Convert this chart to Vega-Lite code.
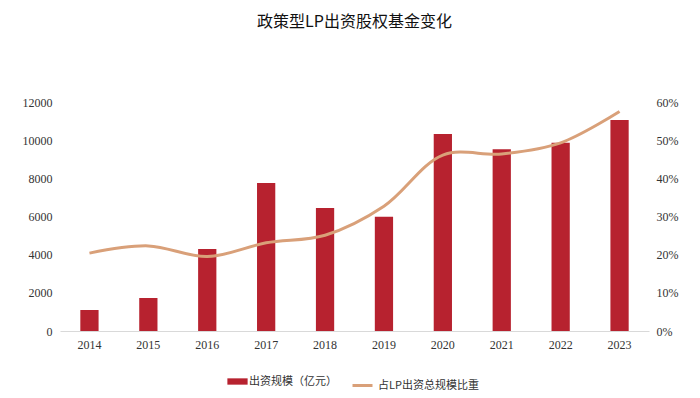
{
  "$schema": "https://vega.github.io/schema/vega-lite/v6.json",
  "width": 589,
  "height": 229,
  "autosize": {"type": "none"},
  "padding": {"left": 60, "top": 102, "right": 51, "bottom": 67},
  "background": "white",
  "title": {
    "text": "政策型LP出资股权基金变化",
    "font": "Noto Sans CJK SC",
    "fontSize": 16,
    "fontWeight": "normal",
    "color": "#111111",
    "anchor": "middle",
    "offset": 66
  },
  "data": {
    "values": [
      {"year": "2014", "amount": 1100, "share": 0.204},
      {"year": "2015", "amount": 1730, "share": 0.223},
      {"year": "2016", "amount": 4300, "share": 0.195},
      {"year": "2017", "amount": 7760, "share": 0.231},
      {"year": "2018", "amount": 6450, "share": 0.251},
      {"year": "2019", "amount": 5990, "share": 0.327},
      {"year": "2020", "amount": 10320, "share": 0.461},
      {"year": "2021", "amount": 9520, "share": 0.464},
      {"year": "2022", "amount": 9870, "share": 0.493},
      {"year": "2023", "amount": 11060, "share": 0.575}
    ]
  },
  "encoding": {
    "x": {
      "field": "year",
      "type": "ordinal",
      "title": null,
      "scale": {"paddingInner": 0.69, "paddingOuter": 0.345},
      "axis": {
        "labelAngle": 0,
        "ticks": false,
        "domainColor": "#d9d9d9",
        "labelFont": "Liberation Serif",
        "labelFontSize": 12,
        "labelColor": "#333333",
        "labelPadding": 8
      }
    }
  },
  "layer": [
    {
      "mark": {"type": "bar", "color": "#B7222F"},
      "encoding": {
        "y": {
          "field": "amount",
          "type": "quantitative",
          "title": null,
          "scale": {"domain": [0, 12000]},
          "axis": {
            "values": [0, 2000, 4000, 6000, 8000, 10000, 12000],
            "format": "d",
            "grid": false,
            "domain": false,
            "ticks": false,
            "labelFont": "Liberation Serif",
            "labelFontSize": 12,
            "labelColor": "#333333",
            "labelPadding": 8
          }
        },
        "color": {
          "datum": "出资规模（亿元）",
          "type": "nominal",
          "scale": {"range": ["#B7222F"]},
          "legend": {
            "title": null,
            "orient": "bottom",
            "symbolType": "M-1.6,-0.5H1.6V0.5H-1.6Z",
            "symbolSize": 160,
            "labelFont": "Noto Sans CJK SC",
            "labelFontSize": 11,
            "labelColor": "#333333",
            "offset": 24
          }
        }
      }
    },
    {
      "mark": {"type": "line", "interpolate": "catmull-rom", "strokeWidth": 3},
      "encoding": {
        "y": {
          "field": "share",
          "type": "quantitative",
          "title": null,
          "scale": {"domain": [0, 0.6]},
          "axis": {
            "orient": "right",
            "values": [0, 0.1, 0.2, 0.3, 0.4, 0.5, 0.6],
            "format": ".0%",
            "grid": false,
            "domain": false,
            "ticks": false,
            "labelFont": "Liberation Serif",
            "labelFontSize": 12,
            "labelColor": "#333333",
            "labelPadding": 7
          }
        },
        "stroke": {
          "datum": "占LP出资总规模比重",
          "type": "nominal",
          "scale": {"range": ["#D9A079"]},
          "legend": {
            "title": null,
            "orient": "bottom",
            "symbolType": "stroke",
            "symbolSize": 400,
            "symbolStrokeWidth": 3,
            "labelFont": "Noto Sans CJK SC",
            "labelFontSize": 11,
            "labelColor": "#333333",
            "offset": 24
          }
        }
      }
    }
  ],
  "resolve": {"scale": {"y": "independent"}},
  "config": {
    "view": {"stroke": null},
    "legend": {"layout": {"bottom": {"anchor": "middle", "direction": "horizontal", "margin": 14}}}
  }
}
